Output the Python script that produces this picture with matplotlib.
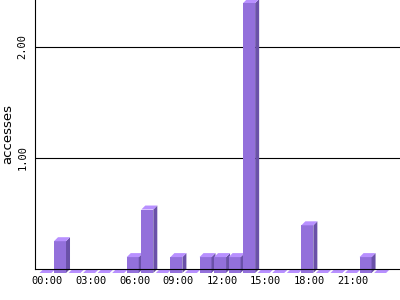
import matplotlib
matplotlib.use('Agg')
import matplotlib.pyplot as plt
from matplotlib.patches import Polygon

# accesses per hour of day (averaged)
hours = list(range(24))
accesses = [0, 0.286, 0, 0, 0, 0, 0.143, 0.571, 0, 0.143, 0, 0.143,
            0.143, 0.143, 2.429, 0, 0, 0, 0.429, 0, 0, 0, 0.143, 0]
tick_hours = [0, 3, 6, 9, 12, 15, 18, 21]
tick_labels = ['00:00', '03:00', '06:00', '09:00', '12:00', '15:00', '18:00', '21:00']

front_col = '#9370db'
side_col = '#6a51a8'
top_col = '#b890ff'

bar_w = 0.825   # front face width (in hours)
dx = 0.275      # depth offset x
dy = 0.036      # depth offset y

fig = plt.figure(figsize=(4, 3), dpi=100)
ax = fig.add_axes([35 / 400, 31 / 300, 365 / 400, 269 / 300])
ax.set_xlim(-0.306, 24.78)
ax.set_ylim(0, 2.42)

for y in [1, 2]:
    ax.axhline(y, color='black', lw=0.8, zorder=0.5)

for h, v in zip(hours, accesses):
    x0 = h
    x1 = h + bar_w
    yb = -dy
    yt = v - dy
    if v > 0:
        ax.add_patch(Polygon([(x0, yb), (x1, yb), (x1, yt), (x0, yt)],
                             closed=True, fc=front_col, ec='none', clip_on=False, zorder=2))
        ax.add_patch(Polygon([(x1, yb), (x1 + dx, yb + dy), (x1 + dx, yt + dy), (x1, yt)],
                             closed=True, fc=side_col, ec='none', clip_on=False, zorder=2))
    ax.add_patch(Polygon([(x0, yt), (x1, yt), (x1 + dx, yt + dy), (x0 + dx, yt + dy)],
                         closed=True, fc=top_col, ec='none', clip_on=False, zorder=2))

for s in ['top', 'right']:
    ax.spines[s].set_visible(False)
for s in ['left', 'bottom']:
    ax.spines[s].set_linewidth(0.8)
    ax.spines[s].set_zorder(5)

ax.set_xticks([h + 0.55 for h in tick_hours])
ax.set_xticklabels(tick_labels, family='DejaVu Sans Mono', fontsize=7.5)
ax.set_yticks([1, 2])
ax.set_yticklabels(['1.00', '2.00'], family='DejaVu Sans Mono', fontsize=7.5,
                   rotation=90, va='center')
ax.tick_params(axis='x', length=0, pad=5)
ax.tick_params(axis='y', length=0, pad=5.5)

ax.set_ylabel('accesses', fontsize=9.5)
ax.yaxis.set_label_coords(-0.058, 0.5)

fig.savefig('out.png', dpi=100)
